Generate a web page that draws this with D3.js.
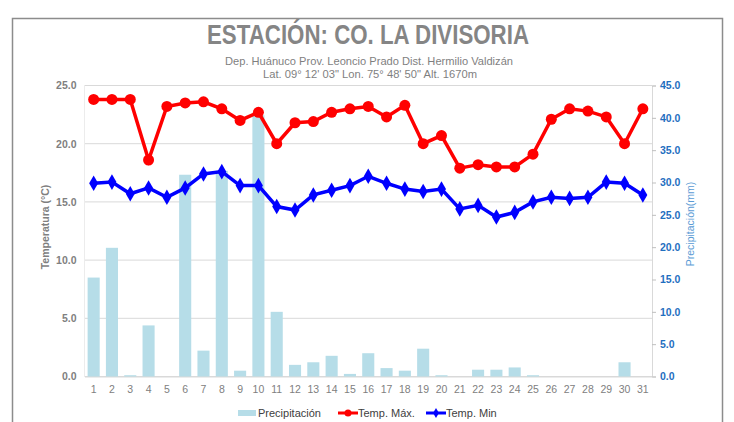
<!DOCTYPE html>
<html>
<head>
<meta charset="utf-8">
<script src="https://cdn.jsdelivr.net/npm/d3@7"></script>
<style>
  body { margin: 0; background: #fff; }
  text { font-family: "Liberation Sans", Arial, sans-serif; }
</style>
</head>
<body>
<div id="chart"></div>
<script>
const dias = d3.range(1, 32).map(String)
const precipitacion = [15.3, 19.9, 0.2, 7.9, 0, 31.2, 4.0, 31.8, 0.9, 40.4, 10.0, 1.8, 2.2, 3.2, 0.4, 3.6,
  1.3, 0.9, 4.3, 0.2, 0, 1.05, 1.05, 1.4, 0.2, 0, 0, 0, 0, 2.2, 0]
const tempMax = [23.8, 23.8, 23.8, 18.6, 23.2, 23.5, 23.6, 23.0, 22.0, 22.7, 20.0, 21.8, 21.9, 22.7, 23.0, 23.2,
  22.3, 23.3, 20.0, 20.7, 17.9, 18.2, 18.0, 18.0, 19.1, 22.1, 23.0, 22.8, 22.3, 20.0, 23.0]
const tempMin = [16.6, 16.7, 15.7, 16.2, 15.4, 16.2, 17.4, 17.6, 16.4, 16.4, 14.6, 14.3, 15.6, 16.0, 16.4, 17.2,
  16.6, 16.1, 15.9, 16.1, 14.4, 14.7, 13.7, 14.1, 15.0, 15.4, 15.3, 15.4, 16.7, 16.6, 15.6]
const tempTicks = [0, 5, 10, 15, 20, 25]
const precTicks = [0, 5, 10, 15, 20, 25, 30, 35, 40, 45]

const w = 734, h = 422
const pLeft = 84.5, pRight = 652, pTop = 85.5, pBottom = 376.5

const svg = d3.select('#chart').append('svg')
  .attr('width', w).attr('height', h)

// outer border
svg.append('rect')
  .attr('x', 12.5).attr('y', 18.5).attr('width', 710).attr('height', 420)
  .attr('fill', 'none').attr('stroke', '#8c8c8c').attr('stroke-width', 1.5)

// titles
svg.append('text').attr('x', 368).attr('y', 44).attr('text-anchor', 'middle')
  .attr('font-size', 27).attr('font-weight', 'bold').attr('fill', '#858585')
  .attr('textLength', 322).attr('lengthAdjust', 'spacingAndGlyphs')
  .text('ESTACIÓN: CO. LA DIVISORIA')
svg.append('text').attr('x', 369).attr('y', 65).attr('text-anchor', 'middle')
  .attr('font-size', 11).attr('fill', '#7f7f7f')
  .attr('textLength', 288).attr('lengthAdjust', 'spacingAndGlyphs')
  .text('Dep. Huánuco Prov. Leoncio Prado Dist. Hermilio Valdizán')
svg.append('text').attr('x', 370).attr('y', 78).attr('text-anchor', 'middle')
  .attr('font-size', 11).attr('fill', '#7f7f7f')
  .attr('textLength', 214).attr('lengthAdjust', 'spacingAndGlyphs')
  .text('Lat. 09° 12\' 03" Lon. 75° 48\' 50" Alt. 1670m')

const x = d3.scaleBand().domain(dias).range([pLeft, pRight])
  .paddingInner(0.34).paddingOuter(0.17)
const yT = d3.scaleLinear().domain([0, 25]).range([pBottom, pTop])
const yP = d3.scaleLinear().domain([0, 45]).range([pBottom, pTop])
const cx = d => x(d) + x.bandwidth() / 2

// grid
svg.append('g').selectAll('line').data(tempTicks).join('line')
  .attr('x1', pLeft).attr('x2', pRight)
  .attr('y1', d => yT(d)).attr('y2', d => yT(d))
  .attr('stroke', '#d9d9d9').attr('stroke-width', 1)
svg.append('line').attr('x1', pLeft).attr('x2', pLeft).attr('y1', pTop).attr('y2', pBottom)
  .attr('stroke', '#ececec')

// left axis
const axL = svg.append('g').attr('transform', `translate(${pLeft},0)`)
  .call(d3.axisLeft(yT).tickValues(tempTicks).tickFormat(d3.format('.1f')).tickSize(0).tickPadding(8))
axL.select('.domain').remove()
axL.selectAll('text').attr('font-size', 10.5).attr('font-weight', 'bold').attr('fill', '#808080')
  .attr('font-family', '"Liberation Sans", Arial, sans-serif')

// right axis
const axR = svg.append('g').attr('transform', `translate(${pRight},0)`)
  .call(d3.axisRight(yP).tickValues(precTicks).tickFormat(d3.format('.1f')).tickSize(4).tickPadding(4))
axR.select('.domain').attr('stroke', '#d9d9d9')
axR.selectAll('line').attr('stroke', '#bfbfbf')
axR.selectAll('text').attr('font-size', 10.5).attr('font-weight', 'bold').attr('fill', '#1f6fbf')
  .attr('font-family', '"Liberation Sans", Arial, sans-serif')

// bottom axis
const axB = svg.append('g').attr('transform', `translate(0,${pBottom})`)
  .call(d3.axisBottom(x).tickSize(0).tickPadding(9))
axB.select('.domain').attr('stroke', '#d9d9d9')
axB.selectAll('text').attr('font-size', 10.5).attr('fill', '#808080')
  .attr('font-family', '"Liberation Sans", Arial, sans-serif')

// axis titles
svg.append('text').attr('transform', 'translate(49,227) rotate(-90)').attr('text-anchor', 'middle')
  .attr('font-size', 10.5).attr('font-weight', 'bold').attr('fill', '#7f7f7f').text('Temperatura (°C)')
svg.append('text').attr('transform', 'translate(694,224) rotate(-90)').attr('text-anchor', 'middle')
  .attr('font-size', 10.5).attr('fill', '#5b9bd5').text('Precipitación(mm)')

// bars
svg.append('g').selectAll('rect').data(precipitacion).join('rect')
  .attr('x', (d, i) => x(dias[i])).attr('width', x.bandwidth())
  .attr('y', d => yP(d)).attr('height', d => pBottom - yP(d))
  .attr('fill', '#b6dde8')

const line = d3.line().x((d, i) => cx(dias[i])).y(d => yT(d))

// temp max
svg.append('path').datum(tempMax).attr('d', line)
  .attr('fill', 'none').attr('stroke', '#ff0000').attr('stroke-width', 3.5)
svg.append('g').selectAll('circle').data(tempMax).join('circle')
  .attr('cx', (d, i) => cx(dias[i])).attr('cy', d => yT(d)).attr('r', 5.5)
  .attr('fill', '#ff0000')

// temp min
svg.append('path').datum(tempMin).attr('d', line)
  .attr('fill', 'none').attr('stroke', '#0000ff').attr('stroke-width', 3.5)
const diamond = d3.symbol().type(d3.symbolDiamond).size(70)
svg.append('g').selectAll('path').data(tempMin).join('path')
  .attr('d', diamond)
  .attr('transform', (d, i) => `translate(${cx(dias[i])},${yT(d)})`)
  .attr('fill', '#0000ff')

// legend
const lg = svg.append('g').attr('font-size', 11).attr('fill', '#404040')
lg.append('rect').attr('x', 238).attr('y', 410).attr('width', 18).attr('height', 6).attr('fill', '#b6dde8')
lg.append('text').attr('x', 258).attr('y', 417).text('Precipitación')
lg.append('line').attr('x1', 338).attr('x2', 358).attr('y1', 413).attr('y2', 413)
  .attr('stroke', '#ff0000').attr('stroke-width', 3)
lg.append('circle').attr('cx', 348).attr('cy', 413).attr('r', 3.5).attr('fill', '#ff0000')
lg.append('text').attr('x', 358).attr('y', 417).text('Temp. Máx.')
lg.append('line').attr('x1', 426).attr('x2', 446).attr('y1', 413).attr('y2', 413)
  .attr('stroke', '#0000ff').attr('stroke-width', 3)
lg.append('path').attr('d', d3.symbol().type(d3.symbolDiamond).size(30))
  .attr('transform', 'translate(436,413)').attr('fill', '#0000ff')
lg.append('text').attr('x', 446).attr('y', 417).text('Temp. Min')
</script>
</body>
</html>
